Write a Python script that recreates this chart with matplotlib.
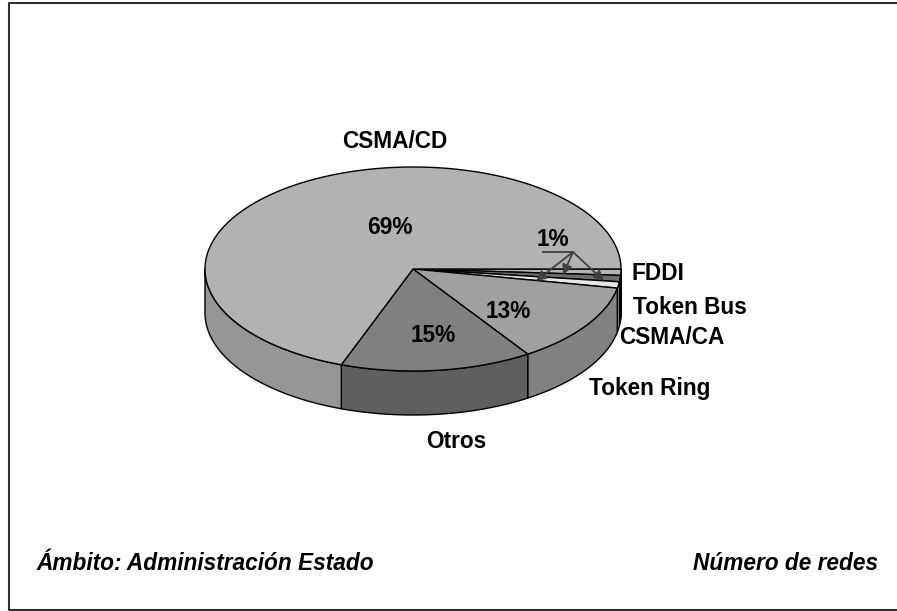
import matplotlib
matplotlib.use('Agg')
import matplotlib.pyplot as plt
import numpy as np

plt.rcParams['font.family'] = ['Liberation Sans', 'DejaVu Sans']

names = ['FDDI', 'Token Bus', 'CSMA/CA', 'Token Ring', 'Otros', 'CSMA/CD']
values = [1, 1, 1, 12.7, 14.9, 69.4]
top_colors = ['#b4b4b4', '#6e6e6e', '#e6e6e6', '#a0a0a0', '#808080', '#b2b2b2']
side_colors = ['#8c8c8c', '#3c3c3c', '#c8c8c8', '#828282', '#5f5f5f', '#969696']

cx, cy = 413, 269
rx, ry = 208, 102
depth = 44


def ell(t):
    return cx + rx * np.cos(t), cy + ry * np.sin(t)


fig = plt.figure(figsize=(8.97, 6.11), dpi=100)
ax = fig.add_axes([0, 0, 1, 1])
ax.set_xlim(0, 897)
ax.set_ylim(611, 0)
ax.axis('off')

# frame, it runs off the right side of the picture
ax.plot([897, 8.5, 8.5, 897], [2.5, 2.5, 609.5, 609.5], color='#303030', lw=1.5)

edges = np.deg2rad(np.cumsum([0] + values) * 3.6)

# side walls, only the front half shows
for i in range(len(values)):
    a, b = edges[i], min(edges[i + 1], np.pi)
    if a >= np.pi:
        continue
    t = np.linspace(a, b, 100)
    x, y = ell(t)
    ax.fill(np.r_[x, x[::-1]], np.r_[y, y[::-1] + depth],
            facecolor=side_colors[i], edgecolor='k', lw=1, joinstyle='round')

# top face
for i in range(len(values)):
    t = np.linspace(edges[i], edges[i + 1], 200)
    x, y = ell(t)
    ax.fill(np.r_[cx, x], np.r_[cy, y], facecolor=top_colors[i],
            edgecolor='k', lw=1, joinstyle='round')

fs = 16.3
ax.text(395, 141, 'CSMA/CD', fontsize=fs, fontweight='bold', ha='center', va='center')
ax.text(658, 274, 'FDDI', fontsize=fs, fontweight='bold', ha='center', va='center')
ax.text(690, 307, 'Token Bus', fontsize=fs, fontweight='bold', ha='center', va='center')
ax.text(672, 338, 'CSMA/CA', fontsize=fs, fontweight='bold', ha='center', va='center')
ax.text(650, 388, 'Token Ring', fontsize=fs, fontweight='bold', ha='center', va='center')
ax.text(456, 442, 'Otros', fontsize=fs, fontweight='bold', ha='center', va='center')

ax.text(390, 228, '69%', fontsize=fs, fontweight='bold', ha='center', va='center')
ax.text(433, 336, '15%', fontsize=fs, fontweight='bold', ha='center', va='center')
ax.text(508, 311, '13%', fontsize=fs, fontweight='bold', ha='center', va='center')
ax.text(553, 240, '1%', fontsize=fs, fontweight='bold', ha='center', va='center')

# leader lines of the 1% labels
ax.plot([543, 573], [252, 252], color='#404040', lw=1.3)
for end in [(536, 281), (563, 275), (604, 281)]:
    ax.annotate('', xy=end, xytext=(573, 252),
                arrowprops=dict(arrowstyle='-|>', color='#404040', lw=1.3,
                                shrinkA=0, shrinkB=0, mutation_scale=15))

ax.text(36, 564, 'Ámbito: Administración Estado', fontsize=fs, fontweight='bold',
        style='italic', ha='left', va='center')
ax.text(878, 564, 'Número de redes', fontsize=fs, fontweight='bold',
        style='italic', ha='right', va='center')

fig.savefig('out.png', dpi=100)
